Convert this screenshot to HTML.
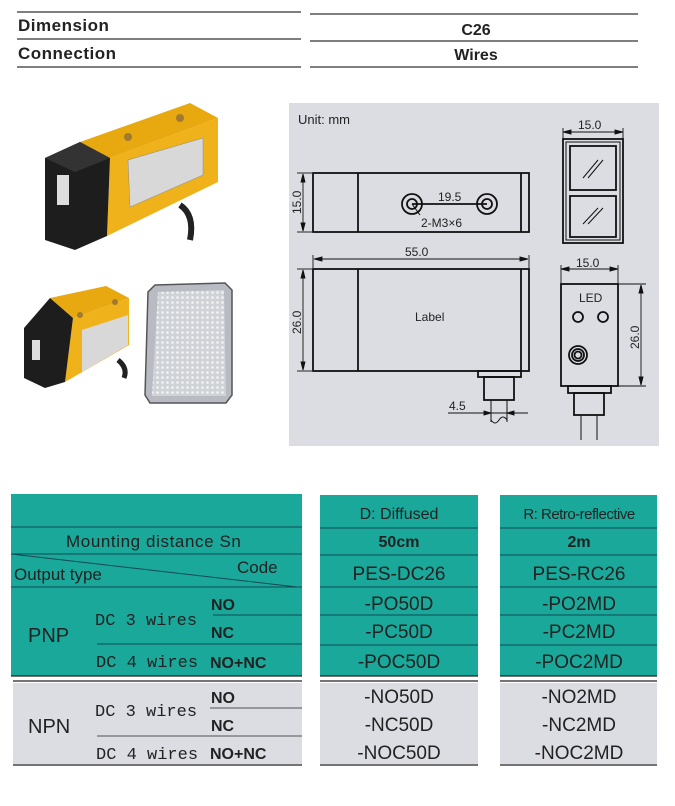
<!DOCTYPE html>
<html><head><meta charset="utf-8"><style>
body{margin:0;width:675px;height:806px;background:#fff;position:relative;overflow:hidden;font-family:"Liberation Sans",sans-serif}
.a{position:absolute}
</style></head><body>
<svg class="a" style="left:0;top:0" width="675" height="806" viewBox="0 0 675 806" font-family="Liberation Sans, sans-serif">
<g stroke="#333" stroke-width="1.3">
<line x1="17" y1="12" x2="301" y2="12"/><line x1="17" y1="39" x2="301" y2="39"/><line x1="17" y1="67" x2="301" y2="67"/>
<line x1="310" y1="14" x2="638" y2="14"/><line x1="310" y1="41" x2="638" y2="41"/><line x1="310" y1="67" x2="638" y2="67"/>
</g>
<text x="18" y="31" font-size="17" font-weight="bold" fill="#222" letter-spacing="0.5">Dimension</text>
<text x="18" y="59" font-size="17" font-weight="bold" fill="#222" letter-spacing="0.5">Connection</text>
<text x="476" y="35" font-size="16" font-weight="bold" fill="#222" text-anchor="middle">C26</text>
<text x="476" y="60" font-size="16" font-weight="bold" fill="#222" text-anchor="middle">Wires</text>

<g>
<path d="M80,142 L190,103 L218,118 L110,158 Z" fill="#e8a80f"/>
<path d="M110,158 L218,118 L218,182 L107,236 Z" fill="#f0b21a"/>
<path d="M45,158 L80,142 L110,158 L107,236 L75,250 L45,240 Z" fill="#1d1d1d"/>
<path d="M45,158 L80,142 L110,158 L75,172 Z" fill="#333"/>
<rect x="57" y="175" width="12" height="30" fill="#ddd"/>
<path d="M128,160 L203,138 L203,175 L130,207 Z" fill="#d8d8d8" stroke="#888" stroke-width="0.5"/>
<circle cx="128" cy="137" r="4" fill="#a07a30"/><circle cx="180" cy="118" r="4" fill="#a07a30"/>
<path d="M180,205 Q195,215 190,240" stroke="#222" stroke-width="6" fill="none"/>
<path d="M50,298 L106,286 L129,298 L73,318 Z" fill="#e8a80f"/>
<path d="M73,318 L129,298 L129,345 L65,382 Z" fill="#f0b21a"/>
<path d="M24,328 L50,298 L73,318 L65,382 L45,388 L24,378 Z" fill="#1d1d1d"/>
<rect x="32" y="340" width="8" height="20" fill="#ddd"/>
<path d="M82,330 L128,315 L128,345 L82,372 Z" fill="#d8d8d8"/>
<circle cx="80" cy="315" r="3" fill="#a07a30"/><circle cx="115" cy="302" r="3" fill="#a07a30"/>
<path d="M118,360 Q128,368 124,378" stroke="#222" stroke-width="5" fill="none"/>
<path d="M155,285 L225,283 L232,290 L232,395 L226,403 L150,403 L145,395 L148,292 Z" fill="#b8bcc2" stroke="#555" stroke-width="1.5"/>
<path d="M158,292 L224,290 L226,396 L152,396 Z" fill="#cfd2d6"/>
</g>
<defs><pattern id="dots" width="5" height="5" patternUnits="userSpaceOnUse"><circle cx="2.5" cy="2.5" r="1.3" fill="#f4f4f4"/></pattern></defs>
<path d="M158,292 L224,290 L226,396 L152,396 Z" fill="url(#dots)"/>

<rect x="289" y="103" width="370" height="343" fill="#dcdde2"/>
<text x="298" y="124" font-size="13" fill="#222">Unit: mm</text>
<g stroke="#111" stroke-width="1.8" fill="none">
<rect x="313" y="173" width="216" height="59"/>
<line x1="358" y1="173" x2="358" y2="232"/><line x1="521" y1="173" x2="521" y2="232"/>
<circle cx="412" cy="204" r="10"/><circle cx="412" cy="204" r="5"/>
<circle cx="487" cy="204" r="10"/><circle cx="487" cy="204" r="5"/>
<line x1="412" y1="204" x2="487" y2="204"/>
<line x1="412" y1="204" x2="420" y2="215" stroke-width="1"/>
<rect x="313" y="269" width="216" height="102"/>
<line x1="358" y1="269" x2="358" y2="371"/><line x1="521" y1="269" x2="521" y2="371"/>
<rect x="478" y="371" width="43" height="6"/>
<rect x="484" y="377" width="30" height="23"/>
<line x1="491" y1="400" x2="491" y2="422" stroke-width="1"/><line x1="507" y1="400" x2="507" y2="422" stroke-width="1"/>
<path d="M491,420 q4,6 8,0 t8,0" stroke-width="1"/>
<rect x="563" y="139" width="60" height="104"/>
<rect x="566" y="142" width="54" height="98" stroke-width="1"/>
<rect x="570" y="146" width="46" height="44"/>
<rect x="570" y="196" width="46" height="41"/>
<line x1="583" y1="178" x2="598" y2="160" stroke-width="1"/><line x1="588" y1="178" x2="603" y2="160" stroke-width="1"/>
<line x1="583" y1="224" x2="598" y2="208" stroke-width="1"/><line x1="588" y1="224" x2="603" y2="208" stroke-width="1"/>
<rect x="561" y="284" width="57" height="102"/>
<circle cx="578" cy="317" r="5"/><circle cx="603" cy="317" r="5"/>
<circle cx="578" cy="355" r="9"/><circle cx="578" cy="355" r="6"/><circle cx="578" cy="355" r="3.5"/>
<rect x="568" y="386" width="43" height="7"/>
<rect x="574" y="393" width="30" height="22"/>
<line x1="581" y1="415" x2="581" y2="440" stroke-width="1"/><line x1="597" y1="415" x2="597" y2="440" stroke-width="1"/>
</g>
<g stroke="#111" stroke-width="0.9" fill="#111">
<line x1="303" y1="174" x2="303" y2="231"/><line x1="297" y1="173" x2="312" y2="173"/><line x1="297" y1="232" x2="312" y2="232"/>
<path d="M303,174 l-2,8 h4z M303,231 l-2,-8 h4z"/>
<line x1="303" y1="270" x2="303" y2="370"/><line x1="297" y1="269" x2="312" y2="269"/><line x1="297" y1="371" x2="312" y2="371"/>
<path d="M303,270 l-2,8 h4z M303,370 l-2,-8 h4z"/>
<line x1="314" y1="259" x2="528" y2="259"/><line x1="313" y1="255" x2="313" y2="268"/><line x1="529" y1="255" x2="529" y2="268"/>
<path d="M314,259 l8,-2 v4z M528,259 l-8,-2 v4z"/>
<line x1="563" y1="132" x2="623" y2="132"/><line x1="563" y1="128" x2="563" y2="139"/><line x1="623" y1="128" x2="623" y2="139"/>
<path d="M563,132 l8,-2 v4z M623,132 l-8,-2 v4z"/>
<line x1="561" y1="269" x2="618" y2="269"/><line x1="561" y1="265" x2="561" y2="284"/><line x1="618" y1="265" x2="618" y2="284"/>
<path d="M561,269 l8,-2 v4z M618,269 l-8,-2 v4z"/>
<line x1="641" y1="285" x2="641" y2="385"/><line x1="618" y1="284" x2="646" y2="284"/><line x1="618" y1="386" x2="646" y2="386"/>
<path d="M641,285 l-2,8 h4z M641,385 l-2,-8 h4z"/>
<line x1="448" y1="413" x2="528" y2="413"/>
<path d="M491,413 l-7,-2 v4z M507,413 l7,-2 v4z"/>
</g>
<g font-size="12" fill="#222">
<text x="438" y="201">19.5</text>
<text x="421" y="227">2-M3×6</text>
<text x="405" y="256">55.0</text>
<text x="578" y="129">15.0</text>
<text x="576" y="267">15.0</text>
<text x="579" y="302">LED</text>
<text x="415" y="321">Label</text>
<text x="449" y="410">4.5</text>
<text transform="translate(301,214) rotate(-90)">15.0</text>
<text transform="translate(301,334) rotate(-90)">26.0</text>
<text transform="translate(639,349) rotate(-90)">26.0</text>
</g>

<g fill="#1aa89a">
<rect x="11" y="494" width="291" height="182"/>
<rect x="320" y="495" width="158" height="181"/>
<rect x="500" y="495" width="157" height="181"/>
</g>
<g fill="#dcdde3">
<rect x="13" y="683" width="289" height="81"/>
<rect x="320" y="683" width="158" height="81"/>
<rect x="500" y="683" width="157" height="81"/>
</g>
<g stroke="#134" stroke-width="1" opacity="0.8">
<line x1="11" y1="527" x2="302" y2="527"/><line x1="11" y1="554" x2="302" y2="554"/><line x1="11" y1="587" x2="302" y2="587"/>
<line x1="213" y1="615" x2="302" y2="615"/><line x1="97" y1="644" x2="302" y2="644"/>
<line x1="11" y1="554" x2="297" y2="587"/>
<line x1="320" y1="528" x2="478" y2="528"/><line x1="320" y1="555" x2="478" y2="555"/><line x1="320" y1="587" x2="478" y2="587"/><line x1="320" y1="615" x2="478" y2="615"/><line x1="320" y1="645" x2="478" y2="645"/>
<line x1="500" y1="528" x2="657" y2="528"/><line x1="500" y1="555" x2="657" y2="555"/><line x1="500" y1="587" x2="657" y2="587"/><line x1="500" y1="615" x2="657" y2="615"/><line x1="500" y1="645" x2="657" y2="645"/>
</g>
<g stroke="#222" stroke-width="1.2">
<line x1="11" y1="676" x2="302" y2="676"/><line x1="320" y1="676" x2="478" y2="676"/><line x1="500" y1="676" x2="657" y2="676"/>
<line x1="13" y1="681" x2="302" y2="681"/><line x1="320" y1="681" x2="478" y2="681"/><line x1="500" y1="681" x2="657" y2="681"/>
<line x1="13" y1="765" x2="302" y2="765"/><line x1="320" y1="765" x2="478" y2="765"/><line x1="500" y1="765" x2="657" y2="765"/>
<line x1="210" y1="708" x2="302" y2="708" stroke-width="0.8"/><line x1="97" y1="736" x2="302" y2="736" stroke-width="0.8"/>
</g>
<g fill="#222" font-size="17">
<text x="66" y="547" letter-spacing="0.6">Mounting distance Sn</text>
<text x="14" y="580">Output type</text>
<text x="237" y="573">Code</text>
<text x="28" y="642" font-size="20">PNP</text>
<text x="28" y="733" font-size="20">NPN</text>
<g font-family="Liberation Mono, monospace" font-size="17">
<text x="95" y="625">DC 3 wires</text><text x="96" y="667">DC 4 wires</text>
<text x="95" y="716">DC 3 wires</text><text x="96" y="759">DC 4 wires</text>
</g>
<g font-weight="bold" font-size="16">
<text x="211" y="610">NO</text><text x="211" y="638">NC</text><text x="210" y="668">NO+NC</text>
<text x="211" y="703">NO</text><text x="211" y="731">NC</text><text x="210" y="759">NO+NC</text>
</g>
<g text-anchor="middle">
<text x="399" y="519" font-size="16">D: Diffused</text>
<text x="399" y="547" font-size="16" font-weight="bold">50cm</text>
<text x="399" y="580" font-size="19">PES-DC26</text>
<text x="399" y="610" font-size="19">-PO50D</text>
<text x="399" y="638" font-size="19">-PC50D</text>
<text x="399" y="668" font-size="19">-POC50D</text>
<text x="399" y="703" font-size="19">-NO50D</text>
<text x="399" y="731" font-size="19">-NC50D</text>
<text x="399" y="759" font-size="19">-NOC50D</text>
<text x="579" y="519" font-size="15" letter-spacing="-0.5">R: Retro-reflective</text>
<text x="579" y="547" font-size="16" font-weight="bold">2m</text>
<text x="579" y="580" font-size="19">PES-RC26</text>
<text x="579" y="610" font-size="19">-PO2MD</text>
<text x="579" y="638" font-size="19">-PC2MD</text>
<text x="579" y="668" font-size="19">-POC2MD</text>
<text x="579" y="703" font-size="19">-NO2MD</text>
<text x="579" y="731" font-size="19">-NC2MD</text>
<text x="579" y="759" font-size="19">-NOC2MD</text>
</g>
</g>
</svg>
</body></html>
